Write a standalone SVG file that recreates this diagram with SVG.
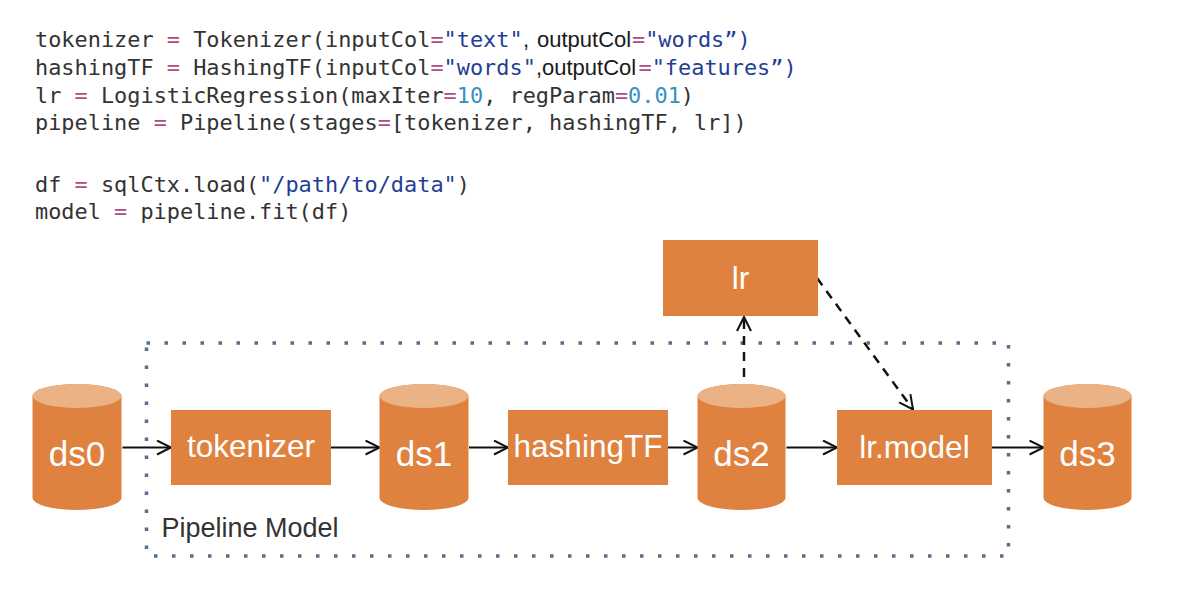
<svg xmlns="http://www.w3.org/2000/svg" width="1204" height="616" viewBox="0 0 1204 616">
<style>
.code{font-family:"DejaVu Sans Mono","Liberation Mono",monospace;font-size:21.9px;fill:#333333;}
.sans{font-family:"Liberation Sans",Arial,sans-serif;font-size:22px;fill:#1a1a1a;}
.op{fill:#b04a82;}
.str{fill:#1f3e94;}
.num{fill:#3590c0;}
.body{fill:#e0823f;}
.top{fill:#ebb285;}
.lbl{font-family:"Liberation Sans",Arial,sans-serif;fill:#ffffff;text-anchor:middle;}
.ds{font-size:35px;}
.bx{font-size:31.5px;}
.edge{fill:none;stroke:#111111;stroke-width:2;}
.dash{stroke-dasharray:9 7;stroke-width:2.5;}
</style>
<defs>
<marker id="arr" markerUnits="userSpaceOnUse" markerWidth="18" markerHeight="18" viewBox="0 0 18 18" refX="15" refY="8" orient="auto">
<path d="M1,1 L15,8 L1,15" fill="none" stroke="#111111" stroke-width="2" stroke-dasharray="none"/>
</marker>
</defs>
<rect width="1204" height="616" fill="#ffffff"/>

<g id="code">
<text class="code" x="35" y="47" xml:space="preserve">tokenizer <tspan class="op">=</tspan> Tokenizer(inputCol<tspan class="op">=</tspan><tspan class="str">"text"</tspan></text>
<text class="sans" x="523" y="47">,</text>
<text class="sans" x="537" y="47">outputCol</text>
<text class="code" x="632" y="47"><tspan class="op">=</tspan><tspan class="str">"words”)</tspan></text>

<text class="code" x="35" y="75" xml:space="preserve">hashingTF <tspan class="op">=</tspan> HashingTF(inputCol<tspan class="op">=</tspan><tspan class="str">"words"</tspan></text>
<text class="sans" x="536" y="75">,</text>
<text class="sans" x="542" y="75">outputCol</text>
<text class="code" x="638.5" y="75"><tspan class="op">=</tspan><tspan class="str">"features”)</tspan></text>

<text class="code" x="35" y="102.5" xml:space="preserve">lr <tspan class="op">=</tspan> LogisticRegression(maxIter<tspan class="op">=</tspan><tspan class="num">10</tspan>, regParam<tspan class="op">=</tspan><tspan class="num">0.01</tspan>)</text>
<text class="code" x="35" y="130" xml:space="preserve">pipeline <tspan class="op">=</tspan> Pipeline(stages<tspan class="op">=</tspan>[tokenizer, hashingTF, lr])</text>
<text class="code" x="35" y="191.5" xml:space="preserve">df <tspan class="op">=</tspan> sqlCtx.load(<tspan class="str">"/path/to/data"</tspan>)</text>
<text class="code" x="35" y="219" xml:space="preserve">model <tspan class="op">=</tspan> pipeline.fit(df)</text>
</g>

<g id="pipeline-model">
<rect x="146.5" y="343" width="862" height="213" fill="none" stroke="#5b6e91" stroke-width="3.5" stroke-dasharray="3.5 14.5"/>
<text x="161.5" y="536.5" font-family="Liberation Sans, Arial, sans-serif" font-size="27" fill="#333333">Pipeline Model</text>
</g>

<g id="connectors">
<line class="edge" x1="122.5" y1="447.5" x2="171" y2="447.5" marker-end="url(#arr)"/>
<line class="edge" x1="331" y1="447.5" x2="379.5" y2="447.5" marker-end="url(#arr)"/>
<line class="edge" x1="469" y1="447.5" x2="508" y2="447.5" marker-end="url(#arr)"/>
<line class="edge" x1="668" y1="447.5" x2="697.5" y2="447.5" marker-end="url(#arr)"/>
<line class="edge" x1="786.5" y1="447.5" x2="837" y2="447.5" marker-end="url(#arr)"/>
<line class="edge" x1="992" y1="447.5" x2="1043.5" y2="447.5" marker-end="url(#arr)"/>
<line class="edge dash" x1="744" y1="393" x2="744" y2="317" marker-end="url(#arr)"/>
<line class="edge dash" x1="817" y1="278" x2="913" y2="409.5" marker-end="url(#arr)"/>
</g>

<g id="ds0">
<path class="body" d="M32.5,396 A44.5,12 0 0 1 121.5,396 V498 A44.5,12 0 0 1 32.5,498 Z"/>
<ellipse class="top" cx="77" cy="396" rx="44.5" ry="12"/>
<text class="lbl ds" x="77" y="466">ds0</text>
</g>

<g id="tokenizer">
<rect class="body" x="171" y="410" width="160" height="75"/>
<text class="lbl bx" x="251" y="457">tokenizer</text>
</g>

<g id="ds1">
<path class="body" d="M379.5,396 A44.5,12 0 0 1 468.5,396 V498 A44.5,12 0 0 1 379.5,498 Z"/>
<ellipse class="top" cx="424" cy="396" rx="44.5" ry="12"/>
<text class="lbl ds" x="424" y="466">ds1</text>
</g>

<g id="hashingTF">
<rect class="body" x="508" y="410" width="160" height="75"/>
<text class="lbl bx" x="588" y="457">hashingTF</text>
</g>

<g id="ds2">
<path class="body" d="M697.5,396 A44,12 0 0 1 785.5,396 V498 A44,12 0 0 1 697.5,498 Z"/>
<ellipse class="top" cx="741.5" cy="396" rx="44" ry="12"/>
<text class="lbl ds" x="741.5" y="466">ds2</text>
</g>

<g id="lr">
<rect class="body" x="663" y="240" width="155" height="76"/>
<text class="lbl bx" x="740.5" y="288.5">lr</text>
</g>

<g id="lr-model">
<rect class="body" x="837" y="410" width="155" height="75"/>
<text class="lbl bx" x="914.5" y="457.5">lr.model</text>
</g>

<g id="ds3">
<path class="body" d="M1043.5,396 A44,12 0 0 1 1131.5,396 V498 A44,12 0 0 1 1043.5,498 Z"/>
<ellipse class="top" cx="1087.5" cy="396" rx="44" ry="12"/>
<text class="lbl ds" x="1087.5" y="466">ds3</text>
</g>
</svg>
